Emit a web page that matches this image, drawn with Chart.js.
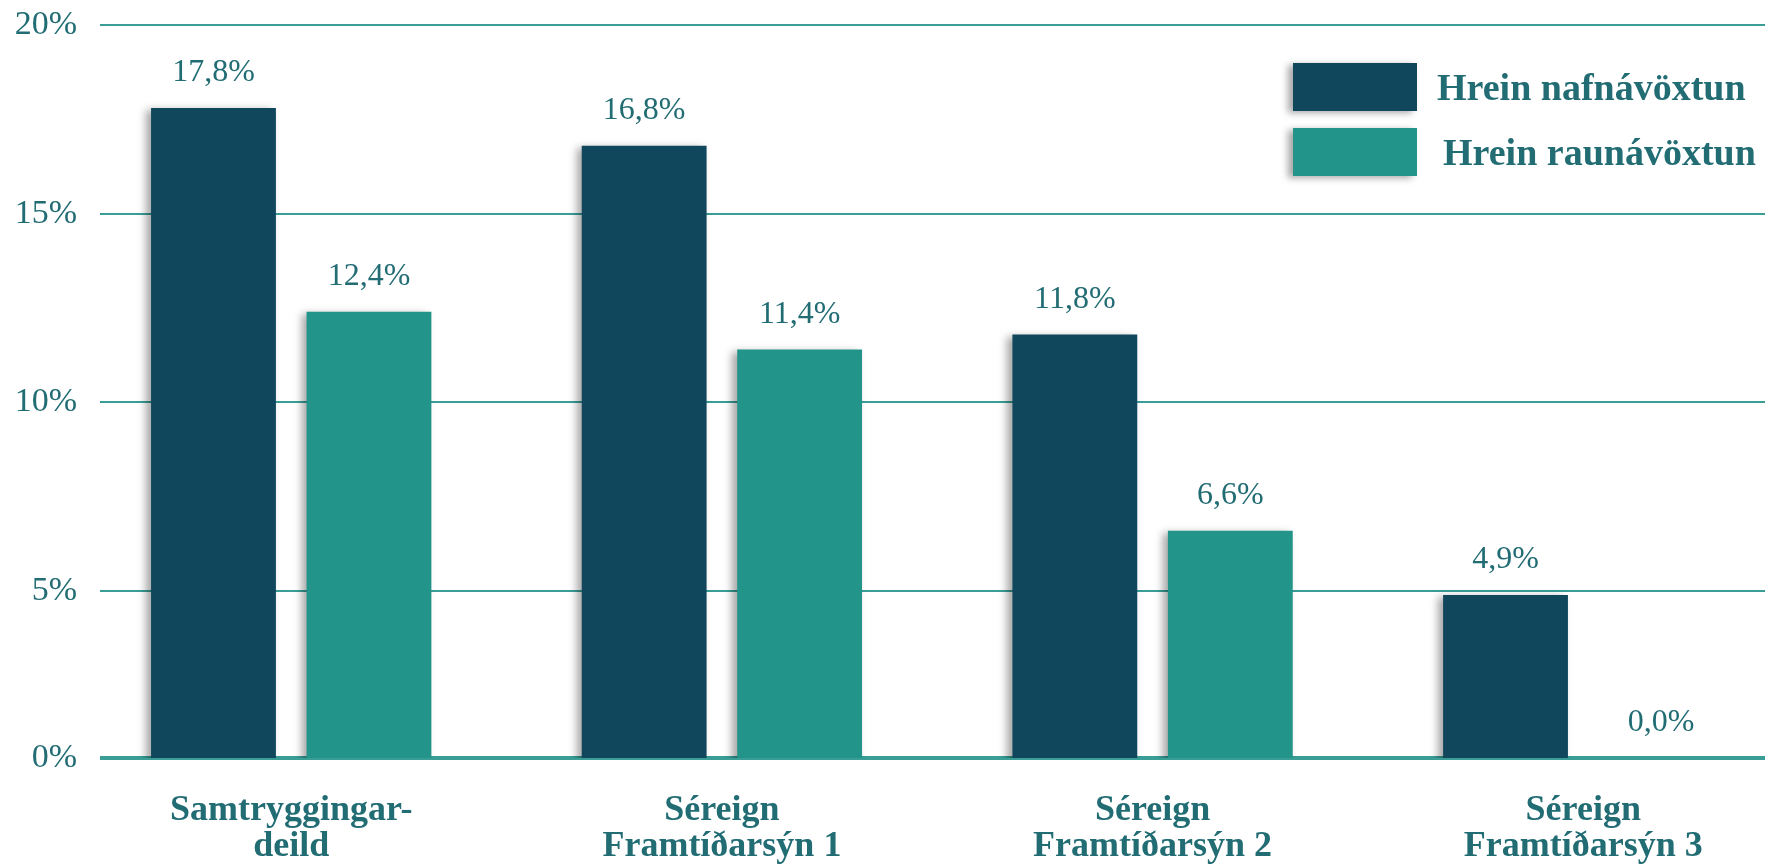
<!DOCTYPE html>
<html>
<head>
<meta charset="utf-8">
<script src="https://cdn.jsdelivr.net/npm/chart.js@4.4.1/dist/chart.umd.min.js"></script>
<style>
  html, body { margin: 0; padding: 0; background: #fff; }
  #wrap { position: relative; width: 1780px; height: 867px; }
  #legend { position: absolute; left: 1293px; top: 63px; }
  .item { display: flex; align-items: center; height: 48px; margin-bottom: 17px; }
  .box { width: 124px; height: 48px; box-shadow: -5px 2px 7px rgba(0,0,0,0.35); }
  .lbl { margin-left: 20px; font: bold 38px "Liberation Serif", "Times New Roman", serif; color: #226c74; white-space: nowrap; }
  .item + .item .lbl { margin-left: 26px; }
</style>
</head>
<body>
<div id="wrap">
  <canvas id="chart" width="1780" height="867"></canvas>
  <div id="legend"></div>
</div>
<script>
  const categories = [
    ["Samtryggingar-", "deild"],
    ["Séreign", "Framtíðarsýn 1"],
    ["Séreign", "Framtíðarsýn 2"],
    ["Séreign", "Framtíðarsýn 3"],
  ];
  const seriesNames = ["Hrein nafnávöxtun", "Hrein raunávöxtun"];
  const nafnavoxtun = [17.8, 16.8, 11.8, 4.9];
  const raunavoxtun = [12.4, 11.4, 6.6, 0.0];
  const yTickLabels = [0, 5, 10, 15, 20];

  // the source draws its baseline a little above true zero, and the
  // category slots are not centred in the plot, so pin both ranges
  const Y_MIN = 0.58, Y_MAX = 20;
  const X_MIN = -0.444, X_MAX = 3.422;

  const TEXT = "#226c74";
  const DARK = "#10475c";
  const TEAL = "#229489";
  const GRID = "#3a9e96";
  const SERIF = '"Liberation Serif", "Times New Roman", serif';

  const fmt = v => v.toFixed(1).replace(".", ",") + "%";

  const barShadow = {
    id: "barShadow",
    beforeDatasetDraw(chart) {
      const c = chart.ctx;
      c.save();
      c.shadowColor = "rgba(0,0,0,0.35)";
      c.shadowBlur = 8;
      c.shadowOffsetX = -5;
      c.shadowOffsetY = 2;
    },
    afterDatasetDraw(chart) { chart.ctx.restore(); },
  };

  const valueLabels = {
    id: "valueLabels",
    afterDatasetsDraw(chart) {
      const { ctx, chartArea } = chart;
      ctx.save();
      ctx.font = "32px " + SERIF;
      ctx.fillStyle = TEXT;
      ctx.textAlign = "center";
      ctx.textBaseline = "middle";
      chart.data.datasets.forEach((ds, di) => {
        chart.getDatasetMeta(di).data.forEach((bar, i) => {
          const top = Math.min(bar.y, chartArea.bottom);
          ctx.fillText(fmt(ds.data[i].y), bar.x, top - 35);
        });
      });
      ctx.restore();
    },
  };

  const toPoints = arr => arr.map((v, i) => ({ x: i, y: v }));

  const chart = new Chart(document.getElementById("chart"), {
    type: "bar",
    data: {
      datasets: [
        { label: seriesNames[0], data: toPoints(nafnavoxtun), backgroundColor: DARK, clip: 0 },
        { label: seriesNames[1], data: toPoints(raunavoxtun), backgroundColor: TEAL, clip: 0 },
      ],
    },
    options: {
      responsive: false,
      animation: false,
      categoryPercentage: 0.722,
      barPercentage: 0.803,
      layout: { padding: { left: 0, right: 15, top: 25, bottom: 0 } },
      plugins: { legend: { display: false }, tooltip: { enabled: false } },
      scales: {
        x: {
          type: "linear",
          min: X_MIN, max: X_MAX,
          offset: false,
          afterBuildTicks: s => { s.ticks = categories.map((_, i) => ({ value: i })); },
          afterFit: s => { s.height = 109; },
          ticks: {
            callback: (v, i) => categories[i],
            autoSkip: false, maxRotation: 0,
            padding: 35,
            color: TEXT,
            font: { family: SERIF, size: 36, weight: "bold", lineHeight: 1.0 },
          },
          grid: { display: false, drawTicks: false },
          border: { display: false },
        },
        y: {
          min: Y_MIN, max: Y_MAX,
          afterBuildTicks: s => { s.ticks = yTickLabels.map(v => ({ value: Math.max(v, Y_MIN) })); },
          afterFit: s => { s.width = 100; s.paddingTop = 0; s.paddingBottom = 0; },
          ticks: {
            callback: (v, i) => yTickLabels[i] + "%",
            padding: 23,
            color: TEXT,
            font: { family: SERIF, size: 34 },
          },
          grid: { color: GRID, lineWidth: c => (c.index === 0 ? 4 : 2), drawTicks: false },
          border: { display: false },
        },
      },
    },
    plugins: [barShadow, valueLabels],
  });

  const legend = document.getElementById("legend");
  chart.data.datasets.forEach(ds => {
    const item = document.createElement("div");
    item.className = "item";
    item.innerHTML = '<div class="box" style="background:' + ds.backgroundColor + '"></div><span class="lbl"></span>';
    item.querySelector(".lbl").textContent = ds.label;
    legend.appendChild(item);
  });
</script>
</body>
</html>
